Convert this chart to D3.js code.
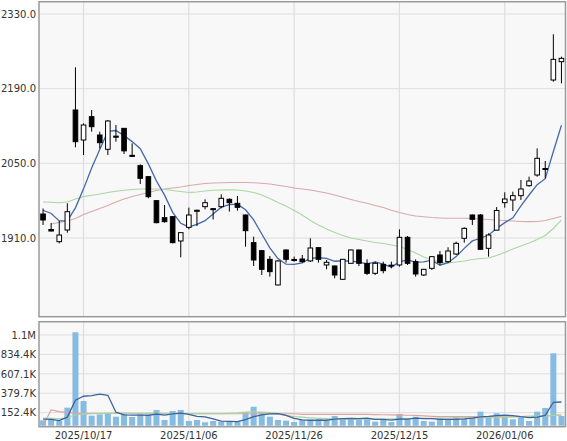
<!DOCTYPE html>
<html>
<head>
<meta charset="utf-8">
<script src="https://cdn.jsdelivr.net/npm/d3@7"></script>
<style>
html,body{margin:0;padding:0;background:#fff;}
svg{display:block;}
text{font-family:"DejaVu Sans",Verdana,sans-serif;font-size:10px;fill:#333;}
</style>
</head>
<body>
<svg id="chart" width="567" height="441"></svg>
<script>
const dates = ["2025/10/09","2025/10/10","2025/10/14","2025/10/15","2025/10/16","2025/10/17","2025/10/20","2025/10/21","2025/10/22","2025/10/23","2025/10/24","2025/10/27","2025/10/28","2025/10/29","2025/10/30","2025/10/31","2025/11/04","2025/11/05","2025/11/06","2025/11/07","2025/11/10","2025/11/11","2025/11/12","2025/11/13","2025/11/14","2025/11/17","2025/11/18","2025/11/19","2025/11/20","2025/11/21","2025/11/25","2025/11/26","2025/11/27","2025/11/28","2025/12/01","2025/12/02","2025/12/03","2025/12/04","2025/12/05","2025/12/08","2025/12/09","2025/12/10","2025/12/11","2025/12/12","2025/12/15","2025/12/16","2025/12/17","2025/12/18","2025/12/19","2025/12/22","2025/12/23","2025/12/24","2025/12/25","2025/12/26","2025/12/29","2025/12/30","2026/01/05","2026/01/06","2026/01/07","2026/01/08","2026/01/09","2026/01/13","2026/01/14","2026/01/15","2026/01/16"];
const open  = [1955,1925.9,1903.1,1925,2150,2093.75,2137.5,2103.1,2076.3,2101,2115.6,2065,2045.6,2025,1980,1948.1,1950,1904.4,1930,1960,1968.75,1965,1968.75,1982.5,1975,1953.1,1901.25,1886.25,1870,1821.9,1887.5,1869.7,1870.6,1867,1891.9,1859.4,1857.5,1832.5,1862.5,1887.5,1862.5,1843.75,1860.6,1858,1859.4,1911.25,1865.6,1840.6,1853.1,1878.1,1865.6,1880,1909.4,1953.1,1953.1,1890.6,1924.7,1976.25,1981.25,1989.4,2008.1,2028.1,2040.3,2206.25,2240.6];
const high  = [1965.3,1938.1,1941.9,1975.1,2230,2125,2150,2109.4,2131.25,2121.9,2116,2087.5,2048.1,2026,1981,1971.9,1951,1921,1966.9,1963,1982.5,1965.6,1991.9,1984.4,1988.75,1954,1912.5,1887.5,1876.25,1868.75,1888.75,1875,1878.1,1909.4,1892,1868.75,1858.4,1870.6,1888.4,1888.4,1870,1865.6,1865.6,1865.6,1926.25,1913.75,1870,1852,1875.3,1885.6,1892.5,1903.1,1930,1954,1955,1918.75,1968,1995.6,1996.9,2018.75,2025,2078.1,2054.4,2291.9,2250];
const low   = [1934.4,1922.2,1900,1920,2080,2065.6,2109.4,2078,2065.6,2090.6,2067.5,2061.9,2011.25,1984.4,1937.5,1938.75,1900,1873.75,1926.3,1932.5,1963.75,1944.7,1965.6,1959.4,1961.25,1893.75,1857.5,1840.6,1837.5,1821.25,1863.75,1865.6,1863.75,1865,1863.75,1851.25,1834.4,1831.25,1861.25,1857.5,1840.6,1840.6,1843.75,1853.1,1856.25,1859.4,1837.5,1838.75,1850,1859.4,1863.75,1878.1,1901.25,1934.4,1888.4,1875,1926.9,1966.9,1960.6,1981.25,2006.25,2025,2022,2203.1,2200];
const close = [1943.75,1923.1,1915.6,1959.3,2090.6,2121.9,2118.75,2088.75,2129.4,2099,2073.4,2063.1,2021.9,1987.5,1938.75,1940.6,1901.25,1920,1953.1,1962,1976.25,1963.1,1984.4,1976.25,1967.5,1923.75,1868.75,1851.25,1846.9,1866.9,1870,1867.8,1865.6,1891.25,1870,1864.4,1840.6,1870,1887.5,1862.5,1843.75,1862.5,1848.75,1859,1911.25,1862.5,1842.5,1851.25,1875,1863.75,1885.6,1900,1928.1,1945,1888.75,1915.6,1961.6,1983.1,1989.4,2001.9,2016.9,2059.4,2038.4,2245,2246.9];
const ma5   = [1962,1956,1942,1942,1966.5,2002.1,2041.2,2075.9,2109.9,2111.6,2101.9,2090.7,2077.4,2049,2016.9,1990.4,1958,1937.6,1930.7,1935.4,1942.5,1954.9,1967.8,1972.4,1973.5,1963,1944.1,1917.5,1891.6,1871.5,1860.8,1860.6,1863.4,1872.3,1872.9,1871.8,1866.4,1867.3,1866.5,1865,1860.9,1865.3,1861,1855.3,1865.1,1868.8,1864.8,1865.3,1868.5,1859,1863.6,1875.1,1890.5,1904.5,1909.5,1915.5,1927.8,1938.8,1947.7,1970.3,1990.6,2010.1,2021.2,2072.3,2121.3];
const ma25  = [1977.5,1976.9,1976.1,1977.5,1983.1,1987.6,1990.1,1992.5,1995.3,1997.6,1999.4,2000.9,2001.9,2001.9,2001.9,2000.9,1999.1,1997.2,1995.3,1996.2,1998.1,1999.4,2000,2000.4,2000,1998.1,1995.3,1990.6,1984.1,1976.6,1970,1961.6,1953.1,1942.8,1934.4,1926.9,1920.3,1914.7,1910,1907.2,1904.4,1901.6,1899.7,1896.9,1894.1,1888.4,1881.9,1874.4,1868.75,1865,1863.1,1865,1866.9,1869.7,1871.6,1872.5,1877,1883,1889.4,1895,1900.6,1907.2,1914.7,1927.8,1943.75];
const ma75  = [null,1936.25,1939.1,1941.9,1946.6,1954.1,1959.7,1965.3,1970.9,1977.5,1983.1,1987.8,1991.6,1995.3,1999.1,2001.9,2003.75,2005.6,2008.4,2010.3,2012.2,2013.1,2013.7,2014.1,2014.1,2014.1,2013.7,2012.6,2011.25,2008.8,2006.6,2003.75,2001.9,2000,1997.2,1994.4,1990.6,1986.3,1982.2,1978.4,1975.1,1970.9,1967.2,1961.9,1957.8,1954.1,1951.25,1949.9,1948.4,1947.5,1946.9,1946.9,1946.9,1946.6,1945.6,1944.7,1943.75,1942.8,1941.9,1940.9,1940.6,1940.9,1942.8,1946.6,1950.7];
const volume = [63,75,55,211,1093,289,117,133,145,105,133,102,133,133,184,67,172,184,55,67,40,55,47,47,55,157,222,157,105,67,59,43,67,75,75,59,114,87,87,67,87,47,79,43,137,75,105,55,47,87,79,105,79,95,164,105,145,105,75,98,55,164,207,847,114].map(v => v * 1000);
const volMa5 = [78,73,60,100,299.4,344.6,353,368.6,355.4,157.8,126.6,123.6,123.6,121.2,137,123.8,137.8,148,132.4,109,103.6,80.2,52.8,51.2,48.8,72.2,105.6,127.6,139.2,141.6,122,86.2,68.2,62.2,63.8,63.8,78,82,84.4,82.8,88.4,75,73.4,64.6,78.6,76.2,87.8,83,83.8,73.8,74.6,74.6,79.4,89,104.4,109.6,117.6,122.8,118.8,105.6,95.6,99.4,119.8,274.2,277.4].map(v => v * 1000);
const volMa25 = [90,85,80,95,128,135,140,143,145,145,145,143,142,142,143,142,142,143,142,141,141,141,142,145,150,158,162,160,152,142,120,106,100,92,86,82,80,78,78,78,78,78,78,79,80,82,84,85,86,88,90,92,93,94,95,97,99,100,103,106,108,111,114,120,125].map(v => v * 1000);
const volMa75 = [null,184,165,152,146,145,145,145,145,145,145,145,145,145,145,145,140,140,140,140,140,140,140,140,140,140,140,140,140,140,140,140,133,133,133,133,133,133,133,133,133,130,128,126,124,122,120,115,110,106,106,106,106,106,106,106,106,106,106,107,108,110,114,121,125].map(v => v * 1000);
const priceTicks = [1910, 2050, 2190, 2330];
const volTicks = [152400, 379700, 607100, 834400, 1061700];
const volTickLabels = ["152.4K", "379.7K", "607.1K", "834.4K", "1.1M"];
const dateTicks = ["2025/10/17", "2025/11/06", "2025/11/26", "2025/12/15", "2026/01/06"];

const svg = d3.select("#chart");
const L = 39, R = 565.5;
const mainTop = 1.7, mainBot = 316.7;
const volTop = 321.7, volBot = 426.7;

const x = d3.scaleBand().domain(dates).range([L, R]).padding(0);
const cx = d => x(d) + x.bandwidth() / 2;
const y = d3.scaleLinear().domain([1762.4, 2353.1]).range([mainBot, mainTop]);
const yv = d3.scaleLinear().domain([0, 1217000]).range([425.7, volTop]);

function panel(top, bot) {
  svg.append("rect").attr("x", L).attr("y", top).attr("width", R - L).attr("height", bot - top)
    .attr("fill", "#f8f8f8");
}
panel(mainTop, mainBot);
panel(volTop, volBot);

// grid main
const gMain = svg.append("g");
gMain.selectAll("line.h").data(priceTicks).join("line")
  .attr("x1", L).attr("x2", R).attr("y1", d => y(d)).attr("y2", d => y(d))
  .attr("stroke", "#dedede").attr("stroke-width", 1);
gMain.selectAll("line.v").data(dateTicks).join("line")
  .attr("x1", d => cx(d)).attr("x2", d => cx(d)).attr("y1", mainTop).attr("y2", mainBot)
  .attr("stroke", "#dedede").attr("stroke-width", 1.2);
// grid vol
const gVol = svg.append("g");
gVol.selectAll("line.h").data(volTicks).join("line")
  .attr("x1", L).attr("x2", R).attr("y1", d => yv(d)).attr("y2", d => yv(d))
  .attr("stroke", "#dedede").attr("stroke-width", 1);
gVol.selectAll("line.v").data(dateTicks).join("line")
  .attr("x1", d => cx(d)).attr("x2", d => cx(d)).attr("y1", volTop).attr("y2", volBot)
  .attr("stroke", "#dedede").attr("stroke-width", 1.2);

// axes labels
const yAxis = d3.axisLeft(y).tickValues(priceTicks).tickSize(0).tickPadding(3).tickFormat(d3.format(".1f"));
svg.append("g").attr("transform", `translate(${L},0)`).call(yAxis)
  .call(g => g.select(".domain").remove())
  .selectAll("text").attr("font-family", "DejaVu Sans").attr("font-size", 10).attr("fill", "#333");
const yvAxis = d3.axisLeft(yv).tickValues(volTicks).tickSize(0).tickPadding(3)
  .tickFormat((d, i) => volTickLabels[i]);
svg.append("g").attr("transform", `translate(${L},0)`).call(yvAxis)
  .call(g => g.select(".domain").remove())
  .selectAll("text").attr("font-family", "DejaVu Sans").attr("font-size", 10).attr("fill", "#333");
const xAxis = d3.axisBottom(x).tickValues(dateTicks).tickSize(0).tickPadding(5);
svg.append("g").attr("transform", `translate(0,${volBot})`).call(xAxis)
  .call(g => g.select(".domain").remove())
  .selectAll("text").attr("font-family", "DejaVu Sans").attr("font-size", 10).attr("fill", "#333");

// volume bars
svg.append("g").selectAll("rect").data(dates).join("rect")
  .attr("x", d => cx(d) - 3).attr("width", 6)
  .attr("y", (d, i) => yv(volume[i])).attr("height", (d, i) => yv(0) - yv(volume[i]))
  .attr("fill", "#86bbe2");

const lineGen = (arr, sc) => d3.line()
  .defined((d, i) => arr[i] != null)
  .x(d => cx(d)).y((d, i) => sc(arr[i]));

function drawLine(arr, sc, color, w) {
  svg.append("path").datum(dates).attr("d", lineGen(arr, sc))
    .attr("fill", "none").attr("stroke", color).attr("stroke-width", w);
}
drawLine(volMa75, yv, "#dfa3a3", 1.2);
drawLine(volMa25, yv, "#a5d6a0", 1.2);
drawLine(volMa5, yv, "#3d62a0", 1.3);

// price MAs
drawLine(ma75, y, "#d9a9a9", 1.1);
drawLine(ma25, y, "#a8d8a0", 1.1);
drawLine(ma5, y, "#4468aa", 1.3);

// candles
const gC = svg.append("g");
dates.forEach((d, i) => {
  const c = cx(d);
  gC.append("line").attr("x1", c).attr("x2", c)
    .attr("y1", y(high[i])).attr("y2", y(low[i]))
    .attr("stroke", "#000").attr("stroke-width", 1);
  const top = y(Math.max(open[i], close[i]));
  const bot = y(Math.min(open[i], close[i]));
  const up = close[i] >= open[i];
  gC.append("rect").attr("x", c - 2.3).attr("width", 4.6)
    .attr("y", top).attr("height", Math.max(bot - top, 0.8))
    .attr("fill", up ? "#fff" : "#000").attr("stroke", "#000").attr("stroke-width", 1);
});

// borders
function border(top, bot) {
  svg.append("rect").attr("x", L).attr("y", top).attr("width", R - L).attr("height", bot - top)
    .attr("fill", "none").attr("stroke", "#9a9a9a").attr("stroke-width", 1.5);
}
border(mainTop, mainBot);
border(volTop, volBot);
</script>
</body>
</html>
